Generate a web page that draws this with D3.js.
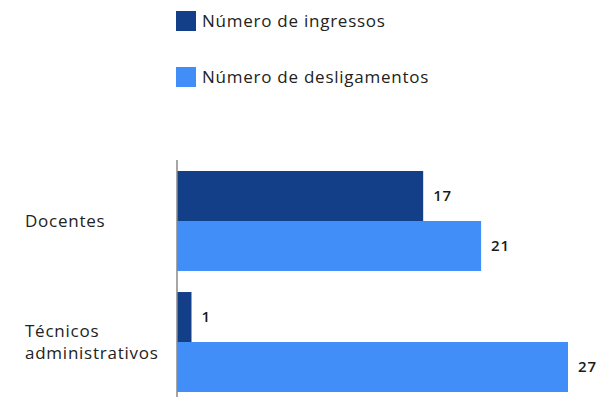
<!DOCTYPE html>
<html>
<head>
<meta charset="utf-8">
<script src="https://d3js.org/d3.v7.min.js"></script>
<style>
    body { margin: 0; background: #fff; }
    text { font-family: "Open Sans", Lato, sans-serif; fill: #222; letter-spacing: 0.75px; }
</style>
</head>
<body>
<svg id="chart" width="599" height="397"></svg>
<script>
// data
const categories = ["Docentes", "Técnicos administrativos"];
const seriesNames = ["Número de ingressos", "Número de desligamentos"];
const ingressos = [17, 1];
const desligamentos = [21, 27];
const colors = ["#123f87", "#418ef8"];

const svg = d3.select("#chart");

const y = d3.scaleBand().domain(categories).range([160, 403])
    .paddingInner(0.174).paddingOuter(0.091);
const ySub = d3.scaleBand().domain(seriesNames).range([0, y.bandwidth()]);
const x = d3.scaleLinear().domain([0, 27]).range([177, 568]);

const rows = categories.map((c, i) => ({
    cat: c,
    vals: [ingressos[i], desligamentos[i]]
}));

// bars
const groups = svg.selectAll("g.cat").data(rows).join("g")
    .attr("class", "cat")
    .attr("transform", d => "translate(0," + y(d.cat) + ")");

groups.selectAll("rect").data(d => d.vals.map((v, j) => ({ v, s: seriesNames[j], j })))
    .join("rect")
    .attr("x", x(0))
    .attr("y", d => ySub(d.s))
    .attr("width", d => x(d.v) - x(0))
    .attr("height", ySub.bandwidth())
    .attr("fill", d => colors[d.j]);

groups.selectAll("text.val").data(d => d.vals.map((v, j) => ({ v, s: seriesNames[j] })))
    .join("text")
    .attr("class", "val")
    .attr("x", d => x(d.v) + 10)
    .attr("y", d => ySub(d.s) + ySub.bandwidth() / 2)
    .attr("dy", "0.35em")
    .style("font-size", "15px")
    .style("font-weight", "600")
    .style("letter-spacing", "0.8px")
    .style("fill", "#1a1a1a")
    .text(d => d.v);

// axis line
svg.append("line")
    .attr("x1", x(0)).attr("x2", x(0))
    .attr("y1", 160).attr("y2", 397)
    .style("stroke", "#888")
    .style("stroke-width", 1.5);

// category labels
svg.selectAll("text.cat").data(categories).join("text")
    .attr("class", "cat")
    .attr("x", 25)
    .attr("y", d => y(d) + y.bandwidth() / 2)
    .style("font-size", "17px")
    .each(function (d) {
        const words = d.split(" ");
        const t = d3.select(this);
        const n = words.length;
        words.forEach((w, i) => {
            t.append("tspan")
                .attr("x", 25)
                .attr("dy", i === 0 ? ((0.35 - (n - 1) * 0.65) + "em") : "1.3em")
                .text(w);
        });
    });

// legend
const legend = svg.selectAll("g.legend").data(seriesNames).join("g")
    .attr("class", "legend")
    .attr("transform", (d, i) => "translate(176," + (11 + i * 56) + ")");

legend.append("rect")
    .attr("width", 20).attr("height", 20)
    .attr("fill", (d, i) => colors[i]);

legend.append("text")
    .attr("x", 26).attr("y", 10)
    .attr("dy", "0.35em")
    .style("font-size", "17px")
    .text(d => d);
</script>
</body>
</html>
